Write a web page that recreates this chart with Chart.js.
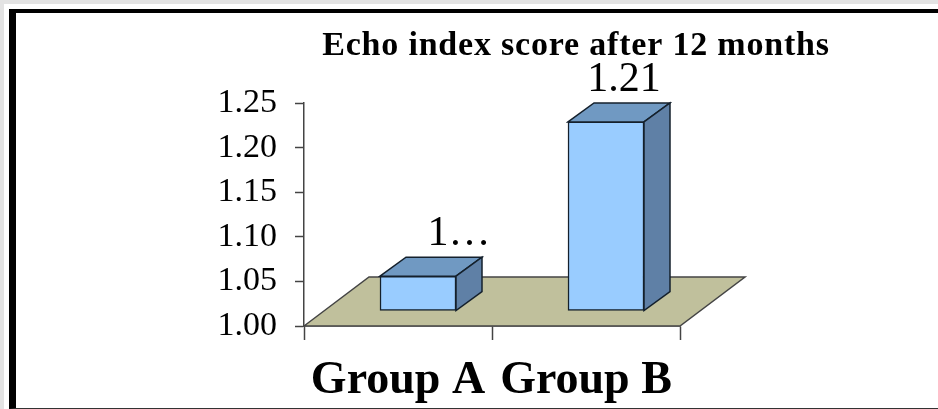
<!DOCTYPE html>
<html>
<head>
<meta charset="utf-8">
<style>
  html, body { margin: 0; height: 100%; background: #e3e3e3; overflow: hidden; }
  #paper { position: absolute; left: 4px; top: 4px; width: 934px; height: 405px; background: #fff; }
  #frame { position: absolute; left: 9px; top: 9px; width: 929px; height: 395px; box-sizing: content-box;
           border-left: 7px solid #000; border-top: 4px solid #000; border-bottom: 1px solid #333; }
  canvas { position: absolute; left: 0; top: 0; }
</style>
<script src="https://cdn.jsdelivr.net/npm/chart.js@4/dist/chart.umd.min.js"></script>
</head>
<body>
<div id="paper"></div>
<div id="frame"></div>
<canvas id="chart" width="938" height="409"></canvas>
<script>
const titleText = 'Echo index score after 12 months';
const categories = ['Group A', 'Group B'];
const scores = [1.039, 1.212];
const scoreLabels = ['1…', '1.21'];
const yTicks = [1.00, 1.05, 1.10, 1.15, 1.20, 1.25];

const serif = '"Liberation Serif", "Times New Roman", serif';
const floorDepth = { x: 65, y: -49 };
const barShift = { x: 20, y: -15 };
const barDepth = { x: 26, y: -19 };
const labelNudge = [41, 18];
const lineColor = '#444';
const barLine = '#14202c';

function poly(ctx, pts, fill) {
  ctx.beginPath();
  pts.forEach((p, i) => i ? ctx.lineTo(p[0], p[1]) : ctx.moveTo(p[0], p[1]));
  ctx.closePath();
  ctx.fillStyle = fill;
  ctx.fill();
  ctx.lineWidth = 1.5;
  ctx.stroke();
}

// pseudo 3D look of the old Excel chart: floor, bar sides, labels
const fake3d = {
  id: 'fake3d',
  beforeDatasetsDraw(chart) {
    const { ctx, chartArea: a } = chart;
    ctx.save();
    ctx.strokeStyle = lineColor;
    poly(ctx, [
      [a.left, a.bottom],
      [a.left + floorDepth.x, a.bottom + floorDepth.y],
      [a.right + floorDepth.x, a.bottom + floorDepth.y],
      [a.right, a.bottom]
    ], '#c0c09c');
    ctx.restore();
  },
  beforeDatasetDraw(chart) {
    chart.ctx.save();
    chart.ctx.translate(barShift.x, barShift.y);
  },
  afterDatasetDraw(chart, args) {
    const ctx = chart.ctx;
    ctx.strokeStyle = barLine;
    args.meta.data.forEach(bar => {
      const { x, y, base, width } = bar.getProps(['x', 'y', 'base', 'width'], true);
      const r = x + width / 2, l = x - width / 2;
      poly(ctx, [[l, y], [l + barDepth.x, y + barDepth.y], [r + barDepth.x, y + barDepth.y], [r, y]], '#7099c2');
      poly(ctx, [[r, y], [r + barDepth.x, y + barDepth.y], [r + barDepth.x, base + barDepth.y], [r, base]], '#5f80a6');
    });
    ctx.restore();
  },
  afterDraw(chart) {
    const ctx = chart.ctx;
    ctx.save();
    ctx.fillStyle = '#000';
    ctx.textBaseline = 'alphabetic';
    ctx.textAlign = 'center';
    ctx.font = 'bold 34px ' + serif;
    ctx.letterSpacing = '0.8px';
    ctx.fillText(titleText, 576, 55);
    ctx.letterSpacing = '0px';
    ctx.font = '42px ' + serif;
    chart.getDatasetMeta(0).data.forEach((bar, i) => {
      ctx.fillText(scoreLabels[i], bar.x + barShift.x + labelNudge[i], bar.y + barShift.y - 31);
    });
    ctx.restore();
  }
};

new Chart(document.getElementById('chart'), {
  type: 'bar',
  data: {
    labels: categories,
    datasets: [{
      data: scores,
      base: 1,
      backgroundColor: '#99ccff',
      borderColor: barLine,
      borderWidth: 1.5,
      borderSkipped: false,
      barThickness: 76,
      clip: false
    }]
  },
  options: {
    responsive: false,
    animation: false,
    layout: { padding: { left: 0, top: 103, right: 258, bottom: 0 } },
    plugins: { legend: { display: false }, title: { display: false }, tooltip: { enabled: false } },
    scales: {
      x: {
        afterFit(s) { s.height = 83; },
        grid: { drawOnChartArea: false, tickLength: 14, tickWidth: 1.5, color: lineColor },
        border: { color: lineColor, width: 1.5 },
        ticks: { color: '#000', padding: 14, maxRotation: 0, autoSkip: false, font: { family: serif, size: 46, weight: 'bold' } }
      },
      y: {
        min: 1,
        max: 1.25,
        afterFit(s) { s.width = 304; },
        afterBuildTicks(s) { s.ticks = yTicks.map(v => ({ value: v })); },
        grid: { drawOnChartArea: false, tickLength: 9, tickWidth: 1.5, color: lineColor },
        border: { color: lineColor, width: 1.5 },
        ticks: { color: '#000', padding: 18, callback: v => v.toFixed(2), font: { family: serif, size: 34 } }
      }
    }
  },
  plugins: [fake3d]
});
</script>
</body>
</html>
